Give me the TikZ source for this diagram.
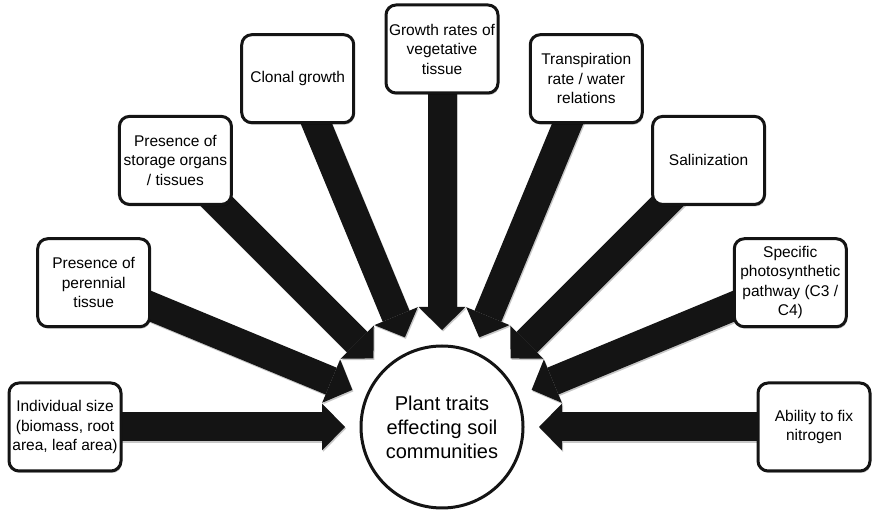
\documentclass[tikz,border=0pt]{standalone}
\usepackage{fontspec}
\setmainfont{Liberation Sans}
\usetikzlibrary{arrows.meta,calc,shadows}
\pgfdeclarelayer{arrowlayer}
\pgfsetlayers{arrowlayer,main}
\definecolor{ink}{HTML}{141414}
\tikzset{
  trait/.style={draw=ink, line width=3pt, fill=white, rounded corners=10pt,
    minimum width=112pt, minimum height=88pt, inner sep=0pt, align=center,
    font=\fontsize{15.5}{19.5}\selectfont,
    drop shadow={shadow xshift=1pt, shadow yshift=-2pt, opacity=0.25, fill=black}},
  hub/.style={circle, draw=ink, line width=3pt, fill=white, minimum size=162pt,
    inner sep=0pt, align=center, font=\fontsize{20}{24}\selectfont},
  blockarrow/.style={draw=ink, line width=29pt,
    -{Triangle[length=23pt,width=47pt,line width=0pt]}},
  blockshadow/.style={draw=black!22, line width=29pt,
    -{Triangle[length=23pt,width=47pt,line width=0pt]},
    transform canvas={xshift=1pt,yshift=-1.5pt}}
}
\begin{document}
\begin{tikzpicture}[x=1pt,y=1pt]
\useasboundingbox (0,0) rectangle (874,510);

% central circle
\node[hub] (hub) at (442,83) {Plant traits\\effecting soil\\communities};

% trait boxes placed on a half circle around the hub
\node[trait] (size)      at ($(hub.center)+(180:377)$)   {Individual size\\(biomass, root\\area, leaf area)};
\node[trait] (perennial) at ($(hub.center)+(157.5:377)$) {Presence of\\perennial\\tissue};
\node[trait] (storage)   at ($(hub.center)+(135:377)$)   {Presence of\\storage organs\\/ tissues};
\node[trait] (clonal)    at ($(hub.center)+(112.5:377)$) {Clonal growth};
\node[trait] (growth)    at ($(hub.center)+(90:378)$)    {Growth rates of\\vegetative\\tissue};
\node[trait] (transp)    at ($(hub.center)+(67.5:377)$)  {Transpiration\\rate / water\\relations};
\node[trait] (salin)     at ($(hub.center)+(45:377)$)    {Salinization};
\node[trait] (photo)     at ($(hub.center)+(22.5:377)$)  {Specific\\photosynthetic\\pathway (C3 /\\C4)};
\node[trait] (nitrogen)  at ($(hub.center)+(0:372)$)     {Ability to fix\\nitrogen};

% block arrows from each box towards the hub
\begin{pgfonlayer}{arrowlayer}
\foreach \n/\a in {size/180, perennial/157.5, storage/135, clonal/112.5,
                   growth/90, transp/67.5, salin/45, photo/22.5, nitrogen/0} {
  \coordinate (tip-\n) at ($(hub.center)+(\a:97)$);
  \draw[blockshadow] (\n.center) -- (tip-\n);
  \draw[blockarrow] (\n.center) -- (tip-\n);
}
\end{pgfonlayer}
\end{tikzpicture}
\end{document}
